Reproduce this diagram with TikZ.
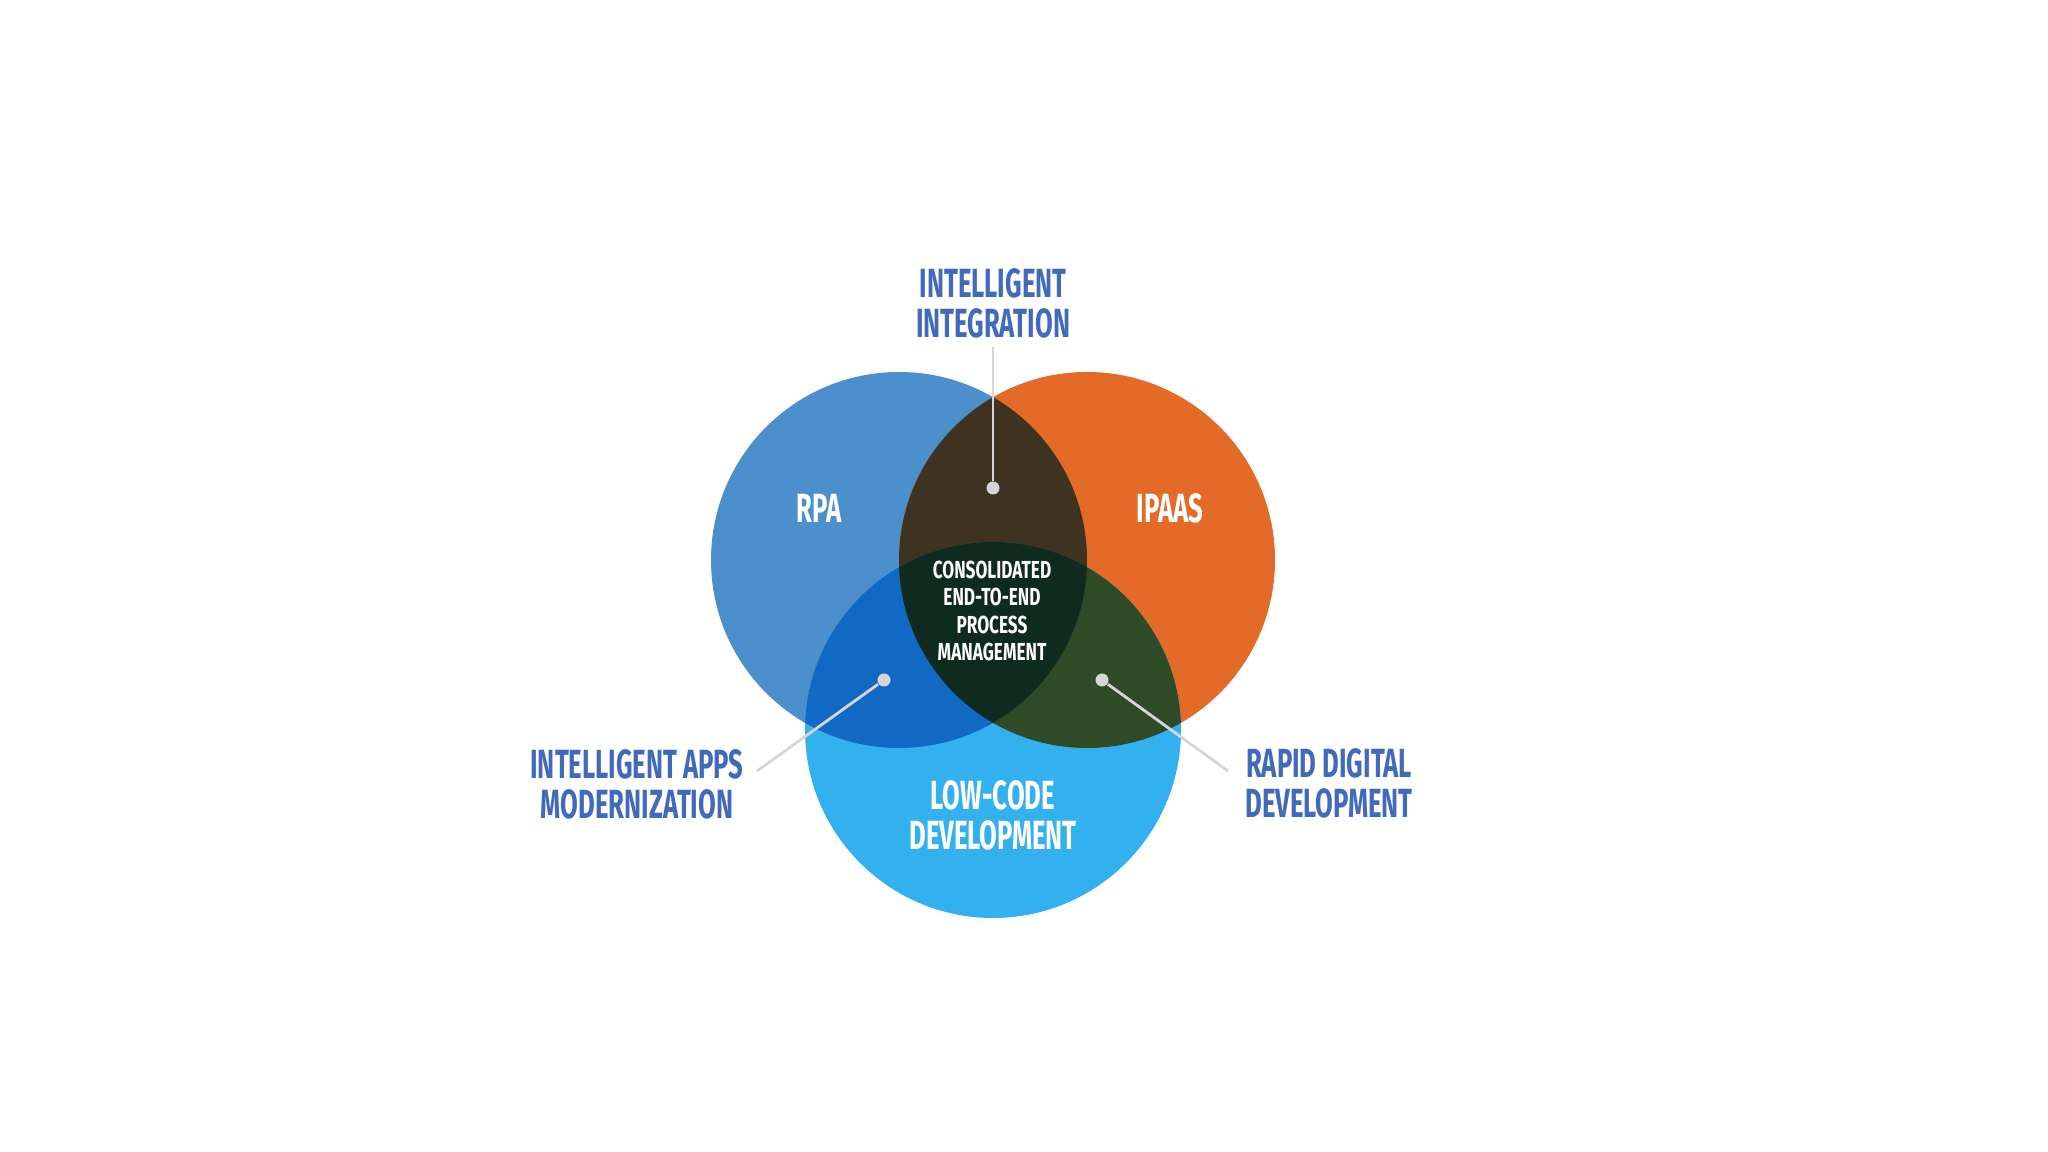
\documentclass[tikz,border=0pt]{standalone}
\usepackage{fontspec}
\setmainfont{Fira Sans}[FakeStretch=0.63]
\newfontfamily\corefont{Fira Sans}[FakeStretch=0.7]
\usetikzlibrary{positioning}
\definecolor{rpablue}{HTML}{4B8FCD}
\definecolor{ipaasorange}{HTML}{E46A28}
\definecolor{lowcodeblue}{HTML}{33B0EE}
\definecolor{topdark}{HTML}{3D3320}
\definecolor{leftdark}{HTML}{1169C4}
\definecolor{rightdark}{HTML}{2E4A27}
\definecolor{coredark}{HTML}{0F2B1F}
\definecolor{labelblue}{HTML}{4169BC}
\definecolor{pingray}{HTML}{D6D6D6}
\tikzset{
  outlabel/.style={text=labelblue, font=\bfseries\fontsize{11.6}{11.4}\selectfont, align=center},
  inlabel/.style={text=white, font=\bfseries\fontsize{11.6}{11.4}\selectfont, align=center},
  corelabel/.style={text=white, font=\corefont\bfseries\fontsize{7}{7.8}\selectfont, align=center},
  pindot/.style={circle, fill=pingray, inner sep=0pt, minimum size=1.3mm},
  leaderline/.style={draw=pingray, line width=0.8pt}
}

\begin{document}
\begin{tikzpicture}[x=0.1mm,y=-0.1mm]
  \useasboundingbox[fill=white] (0,0) rectangle (2048,1152);
  \def\rad{18.8mm}
  \coordinate (rpa) at (899,560);
  \coordinate (ipaas) at (1087,560);
  \coordinate (lowcode) at (993,730);

  \fill[rpablue] (rpa) circle (\rad);
  \fill[ipaasorange] (ipaas) circle (\rad);
  \fill[lowcodeblue] (lowcode) circle (\rad);

  % overlaps
  \begin{scope}
    \clip (rpa) circle (\rad);
    \fill[topdark] (ipaas) circle (\rad);
    \fill[leftdark] (lowcode) circle (\rad);
  \end{scope}
  \begin{scope}
    \clip (ipaas) circle (\rad);
    \fill[rightdark] (lowcode) circle (\rad);
    \clip (rpa) circle (\rad);
    \fill[coredark] (lowcode) circle (\rad);
  \end{scope}

  \node[inlabel] (rpatext) at (819,508) {RPA};
  \node[inlabel] (ipaastext) at (1170,508) {IPAAS};
  \node[inlabel] (lowcodetext) at (993,815) {LOW-CODE\\DEVELOPMENT};
  \node[corelabel] (core) at (992,611) {CONSOLIDATED\\END-TO-END\\PROCESS\\MANAGEMENT};

  \coordinate (topend) at (993,347);
  \coordinate (leftend) at (757,771);
  \coordinate (rightend) at (1228,771);
  \node[pindot] (topdot) at (993,488) {};
  \node[pindot] (leftdot) at (884,680) {};
  \node[pindot] (rightdot) at (1102,680) {};
  \draw[leaderline] (topend) -- (topdot);
  \draw[leaderline] (leftdot) -- (leftend);
  \draw[leaderline] (rightdot) -- (rightend);

  \node[outlabel, above=0pt of topend, yshift=-0.4mm] (integration) {INTELLIGENT\\INTEGRATION};
  \node[outlabel] (apps) at (637,784) {INTELLIGENT APPS\\MODERNIZATION};
  \node[outlabel] (rapid) at (1329,783) {RAPID DIGITAL\\DEVELOPMENT};
\end{tikzpicture}
\end{document}
